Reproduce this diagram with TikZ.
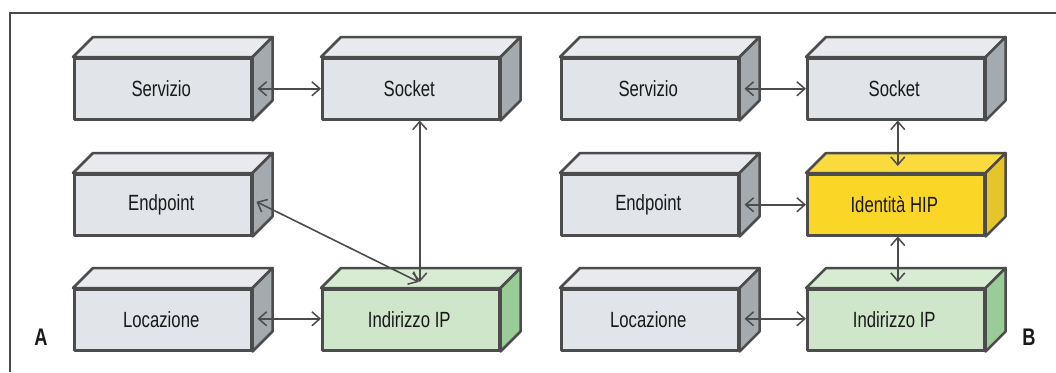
\documentclass[tikz,border=0pt]{standalone}
\usepackage{fontspec}
\setmainfont{Liberation Sans}[FakeStretch=0.76]
\usetikzlibrary{arrows.meta,calc}

\definecolor{edge}{HTML}{4C4C4C}
\definecolor{framec}{HTML}{4A4A4A}
\definecolor{gfront}{HTML}{E1E4E8}
\definecolor{gtop}{HTML}{E8EAED}
\definecolor{gside}{HTML}{A4AAAE}
\definecolor{grfront}{HTML}{CFE6CB}
\definecolor{grtop}{HTML}{D8ECD4}
\definecolor{grside}{HTML}{99CC96}
\definecolor{yfront}{HTML}{FAD726}
\definecolor{ytop}{HTML}{FADB3E}
\definecolor{yside}{HTML}{E6C52A}

\tikzset{
  face/.style={rectangle, draw=edge, line width=2.5pt, line join=round,
    minimum width=177pt, minimum height=61pt, inner sep=0pt,
    font=\fontsize{22}{25}\selectfont, text=black!90},
  facebord/.style={draw=edge, line width=2.5pt, line join=round},
  conn/.style={draw=edge, line width=1.6pt,
    {Straight Barb[length=8pt,width=14pt,line width=1.5pt]}-{Straight Barb[length=8pt,width=14pt,line width=1.5pt]}},
  lab/.style={font=\fontsize{24}{27}\selectfont\bfseries, text=black!90, inner sep=0pt},
  framel/.style={draw=framec, line width=1.3pt}
}

% #1 name, #2 x, #3 y, #4 front, #5 top, #6 side, #7 text
\newcommand\cubebox[7]{%
  \node[face, fill=#4, anchor=north west] (#1) at (#2,#3) {\hspace*{-3pt}#7};
  \draw[facebord, fill=#5] (#1.north west) -- ++(20,-20) -- ($(#1.north east)+(20,-20)$) -- (#1.north east) -- cycle;
  \draw[facebord, fill=#6] (#1.north east) -- ++(20,-20) -- ($(#1.south east)+(20,-20)$) -- (#1.south east) -- cycle;
}

\begin{document}
\begin{tikzpicture}[x=1pt,y=-1pt]
\useasboundingbox (0,0) rectangle (1056,372);
\fill[white] (0,0) rectangle (1056,372);

\draw[framel] (10,372) -- (10,13) -- (1056,13);

% Panel A
\cubebox{servA}{73}{57}{gfront}{gtop}{gside}{Servizio}
\cubebox{sockA}{321}{57}{gfront}{gtop}{gside}{Socket}
\cubebox{endA}{73}{173}{gfront}{gtop}{gside}{Endpoint}
\cubebox{locA}{73}{288}{gfront}{gtop}{gside}{Locazione}
\cubebox{ipA}{321}{288}{grfront}{grtop}{grside}{Indirizzo IP}

% Panel B
\cubebox{servB}{560}{57}{gfront}{gtop}{gside}{Servizio}
\cubebox{sockB}{806}{57}{gfront}{gtop}{gside}{Socket}
\cubebox{endB}{560}{173}{gfront}{gtop}{gside}{Endpoint}
\cubebox{hipB}{806}{173}{yfront}{ytop}{yside}{Identità HIP}
\cubebox{locB}{560}{288}{gfront}{gtop}{gside}{Locazione}
\cubebox{ipB}{806}{288}{grfront}{grtop}{grside}{Indirizzo IP}

% Connectors A
\draw[conn] ($(servA.east)+(5,0)$) -- (sockA.west);
\draw[conn] ($(sockA.south)+(9,0)$) -- ($(ipA.north)+(9,-6)$);
\draw[conn] ($(endA.east)+(4,-3)$) -- ($(ipA.north)+(8,-6)$);
\draw[conn] ($(locA.east)+(5,-1)$) -- ($(ipA.west)+(0,-1)$);

% Connectors B
\draw[conn] ($(servB.east)+(5,0)$) -- (sockB.west);
\draw[conn] ($(sockB.south)+(2,0)$) -- ($(hipB.north)+(2,-7)$);
\draw[conn] ($(endB.east)+(5,0)$) -- (hipB.west);
\draw[conn] ($(hipB.south)+(2,0)$) -- ($(ipB.north)+(2,-6)$);
\draw[conn] ($(locB.east)+(5,-1)$) -- ($(ipB.west)+(0,-1)$);

% Labels
\node[lab] (la) at (41,337) {A};
\node[lab] (lb) at (1029,337) {B};
\end{tikzpicture}
\end{document}
